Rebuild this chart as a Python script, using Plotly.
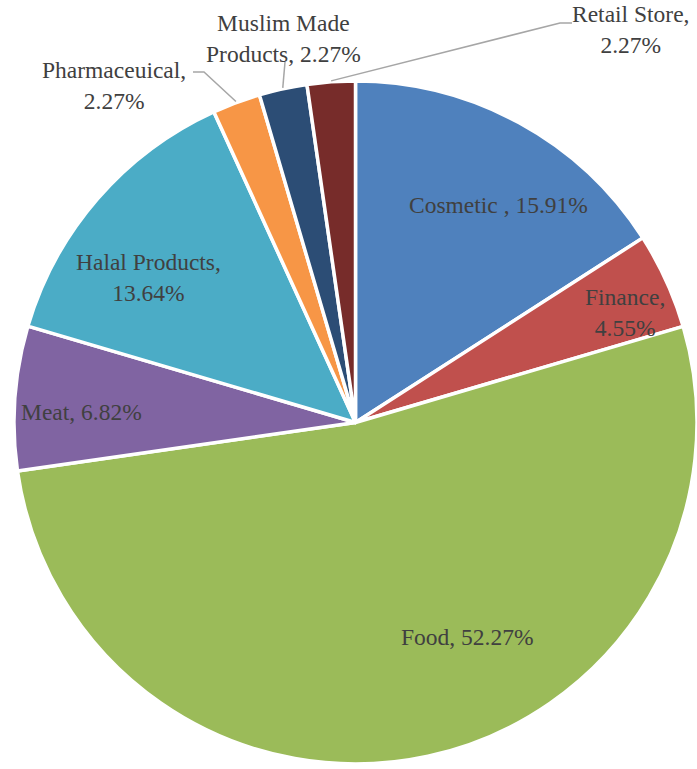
import math
import plotly.graph_objects as go

# Share of studies by halal sector (percent), clockwise from 12 o'clock
categories = ["Cosmetic", "Finance", "Food", "Meat", "Halal Products",
              "Pharmaceuical", "Muslim Made Products", "Retail Store"]
shares = [15.91, 4.55, 52.27, 6.82, 13.64, 2.27, 2.27, 2.27]
label_text = ["Cosmetic , {v:.2f}%", "Finance,<br>{v:.2f}%", "Food, {v:.2f}%",
              "Meat, {v:.2f}%", "Halal Products,<br>{v:.2f}%",
              "Pharmaceuical,<br>{v:.2f}%", "Muslim Made<br>Products, {v:.2f}%",
              "Retail Store,<br>{v:.2f}%"]

colors = ["#4F81BD", "#C0504D", "#9BBB59", "#8064A2", "#4BACC6",
          "#F79646", "#2C4D75", "#772C2A"]

W, H = 697, 769
dom_x = [14 / W, 1.0]
dom_y = [0.0, 1 - 76 / H]

# label centres in page pixels
label_pos = [(498, 205), (625, 312), (467, 637), (81, 412), (148, 277),
             (114, 85), (283, 38), (630, 29)]
# leader line waypoints (after the slice edge) for the small outside labels
leader_pts = {5: [(204, 72), (193, 72)],
              6: [(285, 62)],
              7: [(560, 23), (572, 23)]}

fig = go.Figure(go.Pie(
    labels=categories,
    values=shares,
    sort=False,
    direction="clockwise",
    rotation=0,
    textinfo="none",
    hoverinfo="label+percent",
    marker=dict(colors=colors, line=dict(color="white", width=3.5)),
    domain=dict(x=dom_x, y=dom_y),
    showlegend=False,
))

# pie geometry in pixels, as plotly lays it out inside the domain
dw = (dom_x[1] - dom_x[0]) * W
dh = (dom_y[1] - dom_y[0]) * H
r = min(dw, dh) / 2
cx = dom_x[0] * W + dw / 2
cy = (1 - dom_y[1]) * H + dh / 2


def to_paper(px, py):
    return px / W, 1 - py / H


annotations = []
for i, (txt, v) in enumerate(zip(label_text, shares)):
    x, y = to_paper(*label_pos[i])
    annotations.append(dict(
        x=x, y=y, xref="paper", yref="paper",
        text=txt.format(v=v), showarrow=False,
        xanchor="center", yanchor="middle", align="center",
        font=dict(family="Liberation Serif", size=23.5, color="#404040"),
    ))

total = sum(shares)
shapes = []
cum = 0.0
for i, v in enumerate(shares):
    mid = (cum + v / 2) / total * 2 * math.pi
    cum += v
    if i not in leader_pts:
        continue
    sx = cx + (r + 1) * math.sin(mid)
    sy = cy - (r + 1) * math.cos(mid)
    pts = [(sx, sy)] + leader_pts[i]
    path = "M " + " L ".join(
        "{:.5f},{:.5f}".format(*to_paper(px, py)) for px, py in pts)
    shapes.append(dict(type="path", path=path, xref="paper", yref="paper",
                       line=dict(color="#A6A6A6", width=1.5)))

fig.update_layout(
    width=W, height=H,
    margin=dict(l=0, r=0, t=0, b=0),
    paper_bgcolor="white",
    plot_bgcolor="white",
    font=dict(family="Liberation Serif"),
    annotations=annotations,
    shapes=shapes,
)

fig.write_html("out.html")
